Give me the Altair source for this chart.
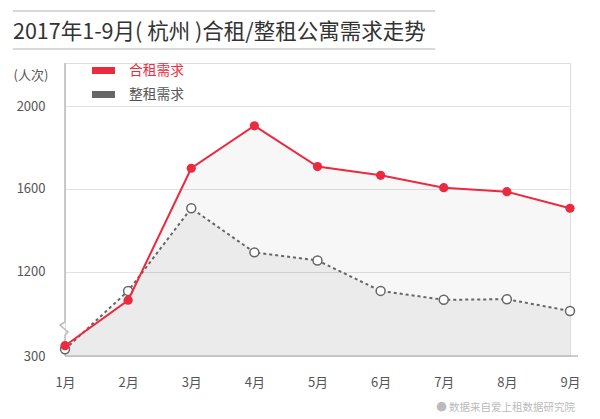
import altair as alt
import pandas as pd

FONT = "Noto Sans CJK SC"
RED = "#eb2a40"
GREY = "#666666"

months = ["1月", "2月", "3月", "4月", "5月", "6月", "7月", "8月", "9月"]
shared = [580, 1063, 1700, 1905, 1708, 1666, 1606, 1587, 1507]   # 合租需求
whole = [483, 1108, 1507, 1294, 1255, 1108, 1065, 1068, 1011]    # 整租需求
series_names = ["合租需求", "整租需求"]
y_ticks = [300, 1200, 1600, 2000]

rows = []
for m, v in zip(months, whole):
    rows.append({"month": m, "series": series_names[1], "value": v})
for m, v in zip(months, shared):
    rows.append({"month": m, "series": series_names[0], "value": v})
df = pd.DataFrame(rows)
legend_df = pd.DataFrame({"series": series_names})

W, H = 505, 293

x_enc = alt.X("month:N", sort=months, scale=alt.Scale(type="point", padding=0),
              axis=alt.Axis(title=None, labelAngle=0, ticks=False, domain=False, grid=False,
                            labelPadding=20, labelFontSize=13, labelColor="#555555",
                            labelFont=FONT))
y_scale = alt.Scale(type="linear", domain=[300, 900, 2208], range=[H, 271, 0], zero=False, nice=False)
y_enc = alt.Y("value:Q", scale=y_scale,
              axis=alt.Axis(values=y_ticks, format="d", title="(人次)", titleAngle=0, titleAlign="left",
                            titleBaseline="middle", titleX=-52, titleY=12, titleFontSize=13,
                            titleFontWeight="normal", titleColor="#555555", titleFont=FONT,
                            ticks=False, domain=False, grid=True, gridColor="#e2e2e2",
                            labelPadding=20, labelFontSize=13, labelColor="#555555",
                            labelFont=FONT))

base = alt.Chart(df)
red_data = base.transform_filter(alt.datum.series == series_names[0])
grey_data = base.transform_filter(alt.datum.series == series_names[1])

area_red = red_data.mark_area(color="#000000", opacity=0.031).encode(x=x_enc, y=y_enc, y2=alt.datum(300))
area_grey = grey_data.mark_area(color="#000000", opacity=0.049).encode(x=x_enc, y=y_enc, y2=alt.datum(300))

line_grey = grey_data.mark_line(strokeWidth=2, color=GREY, strokeDash=[3, 3]).encode(x=x_enc, y=y_enc)
line_red = red_data.mark_line(strokeWidth=2, color=RED).encode(x=x_enc, y=y_enc)

legend_layer = alt.Chart(legend_df).mark_line(strokeWidth=2).encode(
    x=alt.value(0), y=alt.value(0),
    color=alt.Color("series:N", scale=alt.Scale(domain=series_names, range=[RED, GREY]),
                    legend=alt.Legend(title=None, orient="none", legendX=29, legendY=-2,
                                      symbolType="M-2,0H2", symbolSize=132, symbolStrokeWidth=7,
                                      symbolDash=[1, 0],
                                      labelOffset=16, labelFontSize=13.75, labelFont=FONT,
                                      labelColor={"expr": "datum.label == '合租需求' ? '#eb2a40' : '#555555'"},
                                      rowPadding=-12, padding=0)),
)

pts_grey = grey_data.mark_point(
    filled=True, fill="white", stroke=GREY, strokeWidth=1.5, size=80, opacity=1).encode(x=x_enc, y=y_enc)
pts_red = red_data.mark_point(
    filled=True, color=RED, size=85, opacity=1).encode(x=x_enc, y=y_enc)

one = alt.Data(values=[{}])
deco_color = "#bbbbbb"
yaxis_top = alt.Chart(one).mark_rule(color=deco_color, strokeWidth=1.5).encode(
    x=alt.value(0), y=alt.value(0), y2=alt.value(259))
zigzag = alt.Chart(one).mark_point(shape="M0,0L-5,3L3,10L0,13", size=4, filled=False,
                                   stroke=deco_color, strokeWidth=1.5, opacity=1).encode(
    x=alt.value(0), y=alt.value(259))
yaxis_bot = alt.Chart(one).mark_rule(color=deco_color, strokeWidth=1.5).encode(
    x=alt.value(0), y=alt.value(272), y2=alt.value(H))
baseline = alt.Chart(one).mark_rule(color=deco_color, strokeWidth=1.5).encode(
    x=alt.value(0), x2=alt.value(513), y=alt.value(H))

title = alt.Chart(one).mark_text(text="2017年1-9月( 杭州 )合租/整租公寓需求走势", align="left",
                                 baseline="middle", fontSize=21.5, color="#333333", font=FONT).encode(
    x=alt.value(-52), y=alt.value(-30))
tline1 = alt.Chart(one).mark_rule(color="#cccccc", strokeWidth=1.5).encode(
    x=alt.value(-52), x2=alt.value(370), y=alt.value(-52))
tline2 = alt.Chart(one).mark_rule(color="#cccccc", strokeWidth=1.5).encode(
    x=alt.value(-52), x2=alt.value(370), y=alt.value(-14))
foot = alt.Chart(one).mark_text(text="● 数据来自爱上租数据研究院", align="right", baseline="middle",
                                fontSize=10.5, color="#bbbbbb", font=FONT).encode(
    x=alt.value(510), y=alt.value(345))

chart = alt.layer(
    area_red, area_grey, yaxis_top, zigzag, yaxis_bot, baseline,
    legend_layer, line_grey, pts_grey, line_red, pts_red, title, tline1, tline2, foot
).properties(
    width=W, height=H,
    padding={"left": 57, "top": 55, "right": 22, "bottom": 60},
    autosize=alt.AutoSizeParams(type="none"),
    background="white",
).configure_view(stroke=None).configure(font=FONT)

chart.save("out.html", embed_options={"renderer": "svg", "actions": False})
